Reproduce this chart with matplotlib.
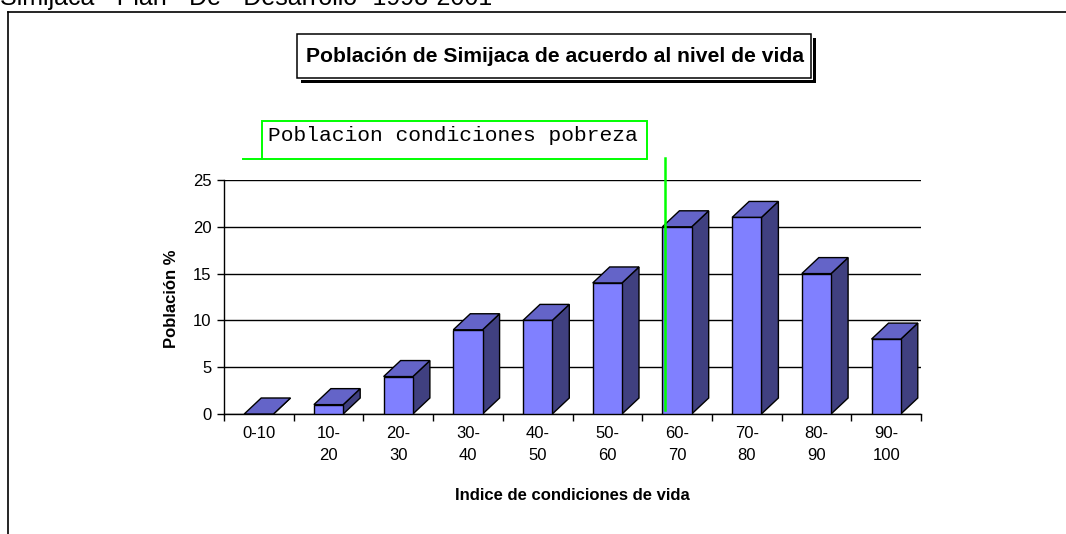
import matplotlib
matplotlib.use("Agg")
import matplotlib.pyplot as plt
from matplotlib.patches import Polygon, Rectangle
from matplotlib.lines import Line2D
from matplotlib.ticker import FixedLocator, MultipleLocator

plt.rcParams["font.family"] = ["Liberation Sans", "DejaVu Sans"]

# data
categories = ["0-10", "10-\n20", "20-\n30", "30-\n40", "40-\n50",
              "50-\n60", "60-\n70", "70-\n80", "80-\n90", "90-\n100"]
poblacion = [0, 1, 4, 9, 10, 14, 20, 21, 15, 8]
poverty_category = "60-\n70"

header = "Simijaca - Plan - De - Desarrollo -1998-2001"
title = "Población de Simijaca de acuerdo al nivel de vida"
note = "Poblacion condiciones pobreza"
xlabel = "Indice de condiciones de vida"
ylabel = "Población %"

# styles
W, H = 1066, 534
FRONT, TOP, SIDE = "#8080FF", "#6464C8", "#404080"
GREEN = "#00FF00"
BAR_W = 0.42
DEPTH_PX = (17, 16)

fig = plt.figure(figsize=(W / 100, H / 100), dpi=100)

# plot area in pixels: x 224..921, y 180..414
L, R, T, B = 224, 921, 180, 414
ax = fig.add_axes([L / W, 1 - B / H, (R - L) / W, (B - T) / H])
ax.set_xlim(0, len(categories))
ax.set_ylim(0, 25)

slot_px = (R - L) / len(categories)
unit_px = (B - T) / 25
dx = DEPTH_PX[0] / slot_px
dy = DEPTH_PX[1] / unit_px

for i, v in enumerate(poblacion):
    x0 = i + 0.5 - BAR_W / 2
    x1 = x0 + BAR_W
    side = Polygon([(x1, 0), (x1 + dx, dy), (x1 + dx, v + dy), (x1, v)],
                   closed=True, facecolor=SIDE, edgecolor="black", lw=1,
                   zorder=3, clip_on=False)
    top = Polygon([(x0, v), (x1, v), (x1 + dx, v + dy), (x0 + dx, v + dy)],
                  closed=True, facecolor=TOP, edgecolor="black", lw=1,
                  zorder=3, clip_on=False)
    ax.add_patch(side)
    ax.add_patch(top)
    if v > 0:
        ax.add_patch(Rectangle((x0, 0), BAR_W, v, facecolor=FRONT,
                               edgecolor="black", lw=1, zorder=3))

# poverty threshold line at the left edge of the 60-70 bar
k = categories.index(poverty_category)
px = k + 0.5 - BAR_W / 2 + 0.04
ax.add_line(Line2D([px, px], [0.4, (B - 158) / unit_px], color=GREEN,
                   lw=1.8, zorder=5, clip_on=False))

ax.yaxis.set_major_locator(MultipleLocator(5))
ax.grid(axis="y", color="black", lw=1, zorder=1)
ax.set_axisbelow(True)
ax.tick_params(axis="y", length=5, width=1, labelsize=12, pad=4,
               color="black")

ax.xaxis.set_major_locator(FixedLocator(range(len(categories) + 1)))
ax.xaxis.set_minor_locator(FixedLocator([i + 0.5 for i in range(len(categories))]))
ax.set_xticklabels([], minor=False)
ax.set_xticklabels(categories, minor=True)
ax.tick_params(axis="x", which="major", length=5, width=1, color="black")
ax.tick_params(axis="x", which="minor", length=0, labelsize=12, pad=9)
for t in ax.get_xticklabels(minor=True):
    t.set_verticalalignment("top")
    t.set_linespacing(1.5)

for s in ("top", "right"):
    ax.spines[s].set_visible(False)
for s in ("left", "bottom"):
    ax.spines[s].set_linewidth(1)
    ax.spines[s].set_color("black")

# overlay in pixel coordinates for the frame, boxes and labels
ov = fig.add_axes([0, 0, 1, 1], facecolor="none")
ov.set_xlim(0, W)
ov.set_ylim(H, 0)
ov.axis("off")

ov.add_line(Line2D([8, W], [12, 12], color="black", lw=1.2))
ov.add_line(Line2D([8, 8], [12, H], color="black", lw=1.2))
# header line of the scanned page, cut at the top edge as in the source
ov.text(0, 5, header, fontsize=18, ha="left", va="baseline")

# title box with shadow
ov.add_patch(Rectangle((812.5, 38), 3.5, 45, facecolor="black", lw=0))
ov.add_patch(Rectangle((301, 79.5), 515, 3.5, facecolor="black", lw=0))
ov.add_patch(Rectangle((297, 34), 514, 44, facecolor="white",
                       edgecolor="black", lw=1.1))
ov.text(555, 57, title, fontsize=15.2, fontweight="bold", ha="center",
        va="center")

# green note box
ov.add_patch(Rectangle((262, 121), 385, 38, facecolor="none",
                       edgecolor=GREEN, lw=1.4))
ov.add_line(Line2D([243, 262], [159, 159], color=GREEN, lw=1.4))
ov.text(268, 141, note, fontsize=15.3, family="Liberation Mono",
        ha="left", va="baseline")

ov.text((L + R) / 2, 496, xlabel, fontsize=12, fontweight="bold",
        ha="center", va="center")
ov.text(171, 299, ylabel, fontsize=12, fontweight="bold", rotation=90,
        ha="center", va="center")

fig.savefig("out.png", dpi=100)
